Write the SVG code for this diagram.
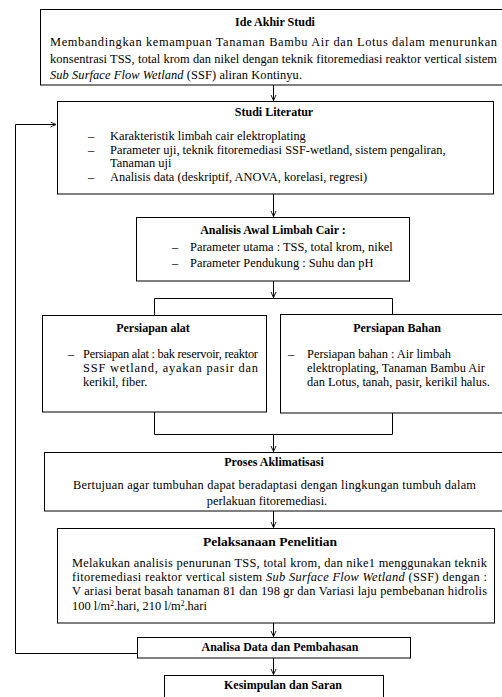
<svg xmlns="http://www.w3.org/2000/svg" width="502" height="697" viewBox="0 0 502 697">
<style>
text{font-family:"Liberation Serif","Times New Roman",serif;font-size:12.4px;fill:#000}
.t{font-weight:bold;text-anchor:middle;font-size:12px}
.tb{font-weight:bold;text-anchor:middle;font-size:13.5px}
.c{text-anchor:middle}
.box{fill:#fff;stroke:#000;stroke-width:1}
.ln{fill:none;stroke:#000;stroke-width:1}
</style>
<defs>
<marker id="ah" markerWidth="8" markerHeight="8" refX="6" refY="3" orient="auto" markerUnits="userSpaceOnUse">
<path d="M0.5,0.5 L6,3 L0.5,5.5" fill="none" stroke="#000" stroke-width="0.9"/>
</marker>
</defs>
<rect width="502" height="697" fill="#fff"/>
<g id="connectors">
<path class="ln" d="M273.5,85 V100.5" marker-end="url(#ah)"/>
<path class="ln" d="M273.5,194 V216.5" marker-end="url(#ah)"/>
<path class="ln" d="M273.5,281 V297.5" marker-end="url(#ah)"/>
<path class="ln" d="M154.5,315 V298.5 H392.5 V314"/>
<path class="ln" d="M154.5,412 V434.5 H392.5 V413"/>
<path class="ln" d="M273.5,434.5 V451.5" marker-end="url(#ah)"/>
<path class="ln" d="M273.5,511 V527.5" marker-end="url(#ah)"/>
<path class="ln" d="M273.5,623 V636.5" marker-end="url(#ah)"/>
<path class="ln" d="M273.5,658 V674.5" marker-end="url(#ah)"/>
<path class="ln" d="M137,653.5 H15.5 V124.5 H56" marker-end="url(#ah)"/>
</g>
<g id="ide">
<rect class="box" x="40.5" y="9.5" width="463" height="75.5"/>
<text class="t" x="275" y="26">Ide  Akhir Studi</text>
<text x="50" y="46" textLength="447" lengthAdjust="spacing">Membandingkan kemampuan Tanaman Bambu Air dan Lotus dalam menurunkan</text>
<text x="50" y="63" textLength="447" lengthAdjust="spacing">konsentrasi TSS, total krom dan nikel dengan teknik fitoremediasi reaktor vertical sistem</text>
<text x="50" y="79" textLength="252" lengthAdjust="spacing"><tspan font-style="italic">Sub Surface Flow Wetland</tspan> (SSF)  aliran  Kontinyu.</text>
</g>
<g id="studi">
<rect class="box" x="57.5" y="101.5" width="436" height="92.5"/>
<text class="t" x="274" y="116">Studi Literatur</text>
<text x="88" y="140">–</text><text x="110" y="140">Karakteristik limbah cair elektroplating</text>
<text x="88" y="154">–</text><text x="110" y="154">Parameter uji, teknik fitoremediasi SSF-wetland, sistem pengaliran,</text>
<text x="110" y="167">Tanaman uji</text>
<text x="88" y="181">–</text><text x="110" y="181">Analisis data (deskriptif, ANOVA, korelasi, regresi)</text>
</g>
<g id="analisis-awal">
<rect class="box" x="136.5" y="217.5" width="273" height="63.5"/>
<text class="t" x="273" y="234">Analisis Awal  Limbah  Cair :</text>
<text x="172" y="251">–</text><text x="190" y="251">Parameter utama : TSS, total krom, nikel</text>
<text x="172" y="267">–</text><text x="190" y="267">Parameter Pendukung : Suhu dan pH</text>
</g>
<g id="persiapan-alat">
<rect class="box" x="42.5" y="315.5" width="224" height="96.5"/>
<text class="t" x="153" y="332">Persiapan alat</text>
<text x="68" y="358">–</text>
<text x="83" y="358" textLength="175" lengthAdjust="spacing">Persiapan alat : bak reservoir, reaktor</text>
<text x="83" y="372" textLength="175" lengthAdjust="spacing">SSF wetland, ayakan pasir dan</text>
<text x="83" y="386">kerikil,  fiber.</text>
</g>
<g id="persiapan-bahan">
<rect class="box" x="280.5" y="314.5" width="223" height="98.5"/>
<text class="t" x="397" y="332">Persiapan Bahan</text>
<text x="288" y="358">–</text>
<text x="307" y="358">Persiapan bahan : Air limbah</text>
<text x="307" y="372">elektroplating, Tanaman Bambu Air</text>
<text x="307" y="386">dan Lotus, tanah, pasir, kerikil  halus.</text>
</g>
<g id="aklimatisasi">
<rect class="box" x="44.5" y="452.5" width="459" height="58.5"/>
<text class="t" x="274" y="466">Proses Aklimatisasi</text>
<text x="73" y="489" textLength="403" lengthAdjust="spacing">Bertujuan agar tumbuhan dapat beradaptasi dengan lingkungan tumbuh dalam</text>
<text class="c" x="267" y="505">perlakuan fitoremediasi.</text>
</g>
<g id="pelaksanaan">
<rect class="box" x="57.5" y="528.5" width="437" height="94.5"/>
<text class="tb" x="270" y="546">Pelaksanaan Penelitian</text>
<text x="72" y="567" textLength="415" lengthAdjust="spacing">Melakukan analisis penurunan TSS, total krom, dan nike1 menggunakan teknik</text>
<text x="72" y="581" textLength="415" lengthAdjust="spacing">fitoremediasi reaktor vertical sistem <tspan font-style="italic">Sub Surface Flow Wetland</tspan>  (SSF)  dengan :</text>
<text x="72" y="595" textLength="415" lengthAdjust="spacing">V ariasi berat basah tanaman 81 dan 198 gr dan Variasi laju pembebanan hidrolis</text>
<text x="72" y="610">100 l/m<tspan font-size="7.5" dy="-4">2</tspan><tspan dy="4">.hari,  210  l/m</tspan><tspan font-size="7.5" dy="-4">2</tspan><tspan dy="4">.hari</tspan></text>
</g>
<g id="analisa">
<rect class="box" x="137.5" y="637.5" width="273" height="20.5"/>
<text class="t" x="280" y="651">Analisa Data  dan  Pembahasan</text>
</g>
<g id="kesimpulan">
<rect class="box" x="164.5" y="675.5" width="219" height="30"/>
<text class="t" x="283" y="689">Kesimpulan  dan  Saran</text>
</g>
</svg>
